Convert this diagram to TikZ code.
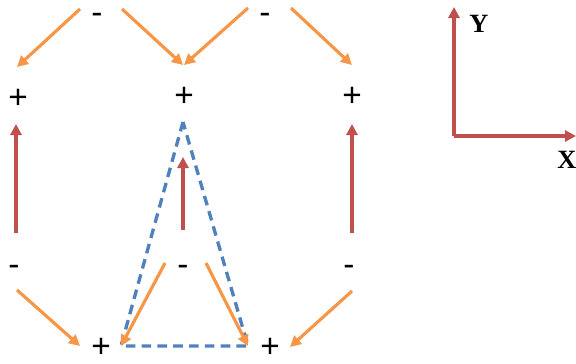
\documentclass[tikz,border=0pt]{standalone}
\usepackage{fontspec}
\setmainfont{Liberation Sans}
\newfontfamily\serifb{Liberation Serif}
\usetikzlibrary{arrows.meta}
\definecolor{orng}{RGB}{247,150,70}
\definecolor{redd}{RGB}{192,80,77}
\definecolor{blu}{RGB}{79,129,189}
\begin{document}
\begin{tikzpicture}[x=0.02cm,y=-0.02cm,
  sign/.style={inner sep=0pt, font=\fontsize{19}{19}\selectfont},
  oarr/.style={draw=orng, line width=1.8pt, -{Triangle[length=2.2mm,width=2.2mm]}},
  rarr/.style={draw=redd, line width=1.8pt, -{Triangle[length=2.2mm,width=2.2mm]}},
  tri/.style={draw=blu, line width=1.9pt, dash pattern=on 5.5pt off 3.5pt},
  axlab/.style={font=\serifb\bfseries\fontsize{15}{15}\selectfont, inner sep=0pt}]
\useasboundingbox (0,0) rectangle (576,363);
% signs
\node[sign] (m1) at (97,18) {-};
\node[sign] (m2) at (265,18) {-};
\node[sign] (p1) at (18,99) {+};
\node[sign] (p2) at (184,97) {+};
\node[sign] (p3) at (352,97) {+};
\node[sign] (m3) at (14,270) {-};
\node[sign] (m4) at (183,270) {-};
\node[sign] (m5) at (349,270) {-};
\node[sign] (p4) at (101,348) {+};
\node[sign] (p5) at (270,348) {+};
% triangle
\coordinate (ta) at (183,122);
\coordinate (tb) at (121,346);
\coordinate (tc) at (248,346);
\draw[tri] (ta) -- (tb) -- (tc) -- cycle;
% orange arrow endpoints
\coordinate (o1s) at (80,9);   \coordinate (o1e) at (17,67);
\coordinate (o2s) at (122,9);  \coordinate (o2e) at (183,65);
\coordinate (o3s) at (248,8);  \coordinate (o3e) at (184,65);
\coordinate (o4s) at (291,8);  \coordinate (o4e) at (352,65);
\coordinate (o5s) at (17,290); \coordinate (o5e) at (80,346);
\coordinate (o6s) at (165,263);
\coordinate (o7s) at (206,263);
\coordinate (o8s) at (352,291);\coordinate (o8e) at (290,347);
\draw[oarr] (o1s) -- (o1e);
\draw[oarr] (o2s) -- (o2e);
\draw[oarr] (o3s) -- (o3e);
\draw[oarr] (o4s) -- (o4e);
\draw[oarr] (o5s) -- (o5e);
\draw[oarr] (o6s) -- (tb);
\draw[oarr] (o7s) -- (tc);
\draw[oarr] (o8s) -- (o8e);
% red arrows
\coordinate (r1s) at (16,233);  \coordinate (r1e) at (16,124);
\coordinate (r2s) at (183,230); \coordinate (r2e) at (183,157);
\coordinate (r3s) at (352,233); \coordinate (r3e) at (352,124);
\draw[rarr] (r1s) -- (r1e);
\draw[rarr] (r2s) -- (r2e);
\draw[rarr] (r3s) -- (r3e);
% axes
\coordinate (org) at (454,136);
\coordinate (ytip) at (454,7);
\coordinate (xtip) at (576,136);
\draw[rarr] (org) -- (ytip);
\draw[rarr] (org) -- (xtip);
\node[axlab] (ylab) at (479,24) {Y};
\node[axlab] (xlab) at (567,160) {X};
\end{tikzpicture}
\end{document}
